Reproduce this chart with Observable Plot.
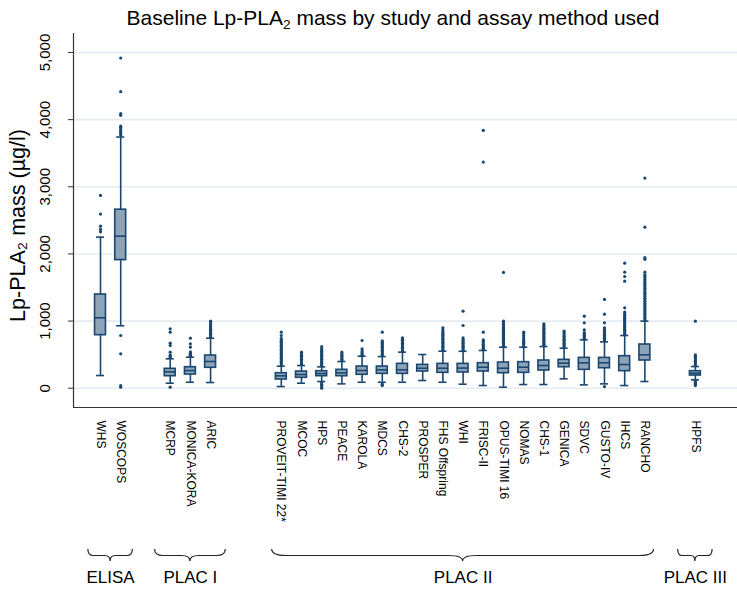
<!DOCTYPE html>
<html>
<head>
<meta charset="utf-8">
<script src="https://cdn.jsdelivr.net/npm/d3@7"></script>
<script src="https://cdn.jsdelivr.net/npm/@observablehq/plot@0.6"></script>
<style>
  body { margin: 0; background: #fff; font-family: "Liberation Sans", Arial, sans-serif; }
  #title { height: 33px; line-height: 36px; font-size: 21px; text-align: center; padding-left: 49px; color: #000; white-space: nowrap; }
  #title sub { font-size: 0.65em; vertical-align: -0.3em; line-height: 0; }
</style>
</head>
<body>
<div id="title">Baseline Lp-PLA<sub>2</sub> mass by study and assay method used</div>
<div id="chart"></div>
<script>
// Studies, grouped by the assay method used
const studies = ["WHS", "WOSCOPS", "MCRP", "MONICA-KORA", "ARIC", "PROVEIT-TIMI 22*", "MCOC", "HPS", "PEACE", "KAROLA",
  "MDCS", "CHS-2", "PROSPER", "FHS Offspring", "WHI", "FRISC-II", "OPUS-TIMI 16", "NOMAS", "CHS-1", "GENICA",
  "SDVC", "GUSTO-IV", "IHCS", "RANCHO", "HPFS"];
const methods = ["ELISA", "ELISA", "PLAC I", "PLAC I", "PLAC I",
  "PLAC II", "PLAC II", "PLAC II", "PLAC II", "PLAC II", "PLAC II", "PLAC II", "PLAC II", "PLAC II", "PLAC II",
  "PLAC II", "PLAC II", "PLAC II", "PLAC II", "PLAC II", "PLAC II", "PLAC II", "PLAC II", "PLAC II", "PLAC III"];
const methodNames = ["ELISA", "PLAC I", "PLAC II", "PLAC III"];

// Box-plot summaries, µg/l
const lowerWhisker = [189, 930, 75, 89, 85, 25, 75, 100, 65, 89, 89, 89, 115, 89, 60, 40, 15, 55, 55, 140, 50, 65, 40, 100, 125];
const q1 =           [790, 1908, 179, 204, 304, 130, 155, 179, 179, 200, 214, 214, 249, 229, 234, 249, 224, 229, 264, 313, 274, 298, 254, 413, 189];
const median =       [1049, 2265, 244, 263, 398, 185, 204, 219, 229, 264, 274, 274, 298, 298, 300, 313, 298, 313, 338, 373, 378, 378, 353, 497, 224];
const q3 =           [1396, 2659, 289, 313, 487, 224, 249, 254, 274, 323, 323, 363, 348, 363, 363, 373, 383, 388, 413, 423, 452, 452, 477, 651, 254];
const upperWhisker = [2250, 3741, 438, 462, 745, 328, 338, 318, 398, 477, 472, 537, 502, 552, 550, 562, 611, 611, 621, 596, 721, 691, 785, 999, 323];

// Outside values for each study, µg/l
const outlierValues = [
  [2330, 2365, 2414, 2593, 2872],
  [15, 40, 513, 785, 3770, 3790, 3810, 3835, 3860, 3885, 3905, 4064, 4090, 4417, 4918],
  [15, 450, 465, 480, 495, 537, 636, 671, 835, 885],
  [475, 490, 505, 520, 540, 612, 661, 745],
  [760, 780, 800, 820, 840, 860, 880, 900, 920, 945, 970, 998],
  [340, 360, 380, 400, 420, 440, 460, 480, 500, 520, 540, 560, 580, 600, 620, 640, 660, 680, 700, 720, 740, 785, 835],
  [350, 370, 390, 410, 430, 450, 470, 490, 510, 537],
  [0, 20, 40, 60, 80, 330, 350, 370, 390, 410, 430, 450, 470, 490, 510, 530, 550, 570, 590, 621],
  [410, 430, 450, 470, 490, 510, 537],
  [490, 510, 530, 555, 587, 711],
  [40, 60, 485, 505, 525, 545, 565, 585, 605, 625, 645, 665, 685, 706, 835],
  [550, 570, 590, 610, 630, 650, 670, 690, 710, 730, 751],
  [],
  [565, 585, 605, 625, 645, 665, 685, 705, 725, 745, 765, 785, 805, 825, 845, 870, 900],
  [565, 585, 605, 625, 645, 665, 685, 705, 725, 751, 934, 1148],
  [575, 595, 615, 635, 655, 675, 700, 720, 835, 3368, 3840],
  [625, 645, 665, 685, 705, 725, 745, 765, 785, 805, 825, 845, 865, 885, 905, 925, 950, 975, 999, 1724],
  [625, 645, 665, 685, 705, 725, 750, 780, 810, 835],
  [635, 655, 675, 695, 715, 735, 755, 775, 795, 815, 835, 855, 875, 895, 915, 935, 959],
  [610, 630, 650, 670, 690, 710, 730, 750, 775, 800, 825, 850],
  [735, 750, 770, 790, 810, 830, 870, 974, 1073],
  [25, 705, 725, 745, 765, 785, 805, 825, 850, 875, 900, 974, 1103, 1322],
  [800, 820, 840, 860, 880, 900, 920, 940, 960, 980, 1000, 1020, 1040, 1060, 1080, 1100, 1133, 1198, 1595, 1664, 1729, 1863],
  [1015, 1040, 1065, 1090, 1115, 1140, 1165, 1190, 1215, 1240, 1265, 1290, 1315, 1340, 1365, 1390, 1415, 1440, 1465, 1490,
   1515, 1540, 1565, 1590, 1615, 1640, 1665, 1690, 1729, 1920, 1945, 2399, 3130],
  [40, 55, 70, 85, 100, 110, 338, 358, 378, 398, 418, 438, 458, 478, 497, 999]
];

const yTicks = [0, 1000, 2000, 3000, 4000, 5000];
const axisTitle = "Lp-PLA\u2082 mass (\u00b5g/l)";

// Layout: extra slots left between method groups, brace overhang per group
const groupGap = {"PLAC I": 1.45, "PLAC II": 2.5, "PLAC III": 1.5};
const bracePad = {"ELISA": 0.6, "PLAC I": 0.75, "PLAC II": 0.45, "PLAC III": 0.85};
const navy = "#1a476f";
const boxFill = "#8da3b7";
const boxHalf = 0.27, capHalf = 0.2;

// slot position of each study along x
const positions = [];
studies.forEach((s, i) => {
  if (i === 0) positions.push(0);
  else positions.push(positions[i - 1] + 1 + (methods[i] !== methods[i - 1] ? groupGap[methods[i]] : 0));
});

const stats = studies.map((study, i) => ({
  study, method: methods[i], pos: positions[i],
  lo: lowerWhisker[i], q1: q1[i], med: median[i], q3: q3[i], hi: upperWhisker[i]
}));
const outlierRows = stats.flatMap((d, i) => outlierValues[i].map((value) => ({pos: d.pos, value})));
const groups = methodNames.map((name) => {
  const ps = stats.filter((d) => d.method === name).map((d) => d.pos);
  const a = d3.min(ps), b = d3.max(ps);
  return {name, a, b, center: (a + b) / 2, pad: bracePad[name]};
});

const fmt = d3.format(",");

// Curly braces under each method group
function braces(index, scales, values, dimensions) {
  const {x} = scales;
  const fb = dimensions.height - dimensions.marginBottom;
  const yTop = fb + 142, yMid = fb + 148.5, yTip = fb + 154;
  const g = d3.create("svg:g");
  for (const grp of groups) {
    const x1 = x(grp.a - grp.pad), x2 = x(grp.b + grp.pad), cx = x(grp.center);
    const r = Math.min(14, (x2 - x1) * 0.12);
    g.append("path")
      .attr("fill", "none")
      .attr("stroke", "#222")
      .attr("stroke-width", 1.2)
      .attr("d", `M${x1},${yTop} Q${x1},${yMid} ${x1 + r},${yMid} L${cx - r},${yMid} Q${cx},${yMid} ${cx},${yTip}`
        + ` Q${cx},${yMid} ${cx + r},${yMid} L${x2 - r},${yMid} Q${x2},${yMid} ${x2},${yTop}`);
  }
  return g.node();
}

const xDomain = [-1.337, 31.535];
const yDomain = [-287, 5283];

const chart = Plot.plot({
  width: 737,
  height: 556,
  marginLeft: 73,
  marginRight: 0,
  marginTop: 0,
  marginBottom: 182,
  x: {type: "linear", domain: xDomain, axis: null},
  y: {type: "linear", domain: yDomain},
  style: {fontFamily: "'Liberation Sans', Arial, sans-serif", fontSize: "12px", background: "#fff", color: "#000", overflow: "visible"},
  marks: [
    Plot.ruleY(yTicks, {stroke: "#e5ecf0", strokeWidth: 1.6}),
    Plot.axisY(yTicks, {tickSize: 5, tickFormat: () => "", label: null, stroke: "#333"}),
    Plot.ruleX([xDomain[0]], {stroke: "#333", strokeWidth: 1.2}),
    Plot.ruleY([yDomain[0]], {stroke: "#333", strokeWidth: 1.2}),
    // whiskers and caps
    Plot.ruleX(stats, {x: "pos", y1: "q3", y2: "hi", stroke: navy, strokeWidth: 1.6}),
    Plot.ruleX(stats, {x: "pos", y1: "lo", y2: "q1", stroke: navy, strokeWidth: 1.6}),
    Plot.ruleY(stats, {y: "hi", x1: (d) => d.pos - capHalf, x2: (d) => d.pos + capHalf, stroke: navy, strokeWidth: 1.6}),
    Plot.ruleY(stats, {y: "lo", x1: (d) => d.pos - capHalf, x2: (d) => d.pos + capHalf, stroke: navy, strokeWidth: 1.6}),
    // boxes and medians
    Plot.rect(stats, {x1: (d) => d.pos - boxHalf, x2: (d) => d.pos + boxHalf, y1: "q1", y2: "q3", fill: boxFill, stroke: navy, strokeWidth: 1.6}),
    Plot.ruleY(stats, {y: "med", x1: (d) => d.pos - boxHalf, x2: (d) => d.pos + boxHalf, stroke: navy, strokeWidth: 1.6}),
    // outside values
    Plot.dot(outlierRows, {x: "pos", y: "value", r: 1.6, fill: navy, stroke: null}),
    // study labels
    Plot.text(stats, {x: "pos", text: "study", frameAnchor: "bottom", dy: 13, rotate: 90, textAnchor: "start", lineAnchor: "middle", fontSize: 12, fill: "#000"}),
    // y tick labels and title
    Plot.text(yTicks, {y: (d) => d, text: (d) => fmt(d), frameAnchor: "left", dx: -28, rotate: -90, textAnchor: "middle", lineAnchor: "middle", fontSize: 15, fill: "#000"}),
    Plot.text([axisTitle], {text: (d) => d, frameAnchor: "left", dx: -55, dy: 5, rotate: -90, textAnchor: "middle", lineAnchor: "middle", fontSize: 21.5, fill: "#000"}),
    // method groups
    braces,
    Plot.text(groups, {x: "center", text: "name", frameAnchor: "bottom", dy: 170, textAnchor: "middle", lineAnchor: "middle", fontSize: 17, fill: "#000"})
  ]
});
document.getElementById("chart").appendChild(chart);
</script>
</body>
</html>
